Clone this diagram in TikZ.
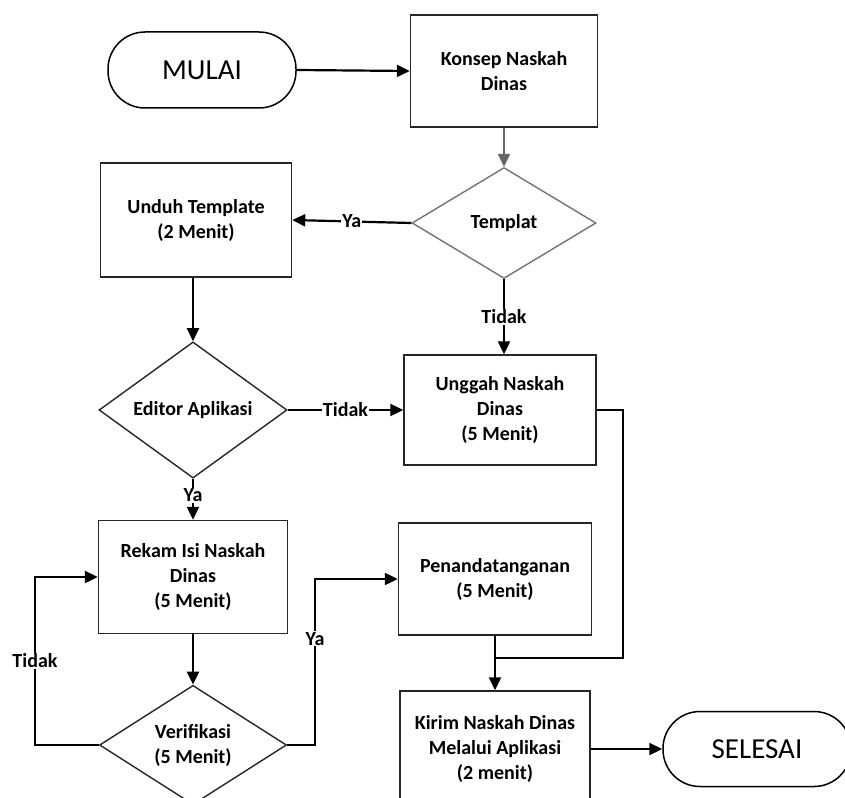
\documentclass[tikz,border=0pt]{standalone}
\usepackage{fontspec}
\setmainfont{Carlito}
\usetikzlibrary{shapes.geometric,arrows.meta}
\begin{document}
\begin{tikzpicture}[x=1pt,y=1pt,
  txt/.style={font=\fontsize{20}{25}\selectfont\bfseries,align=center,inner sep=0pt},
  procbox/.style={txt,draw=black!85,line width=1.4pt,rectangle},
  decbox/.style={txt,draw=black!85,line width=1.4pt,diamond},
  termbox/.style={draw=black,line width=1.5pt,rectangle,rounded corners=37pt,
     font=\fontsize{29}{34}\selectfont,inner sep=0pt},
  conn/.style={draw=black,line width=2.2pt,-{Triangle[length=13pt,width=12pt]}},
  line/.style={draw=black,line width=2.2pt},
  lbl/.style={txt,fill=white,inner sep=1pt}]
\path[use as bounding box] (0,0) rectangle (845,-797);
% nodes
\node[termbox,minimum width=188pt,minimum height=76pt] (mulai) at (202,-70) {MULAI};
\node[procbox,minimum width=187pt,minimum height=112pt] (konsep) at (504,-71) {Konsep Naskah\\Dinas};
\node[decbox,draw=black!55,minimum width=184pt,minimum height=111pt] (templat) at (504,-223) {Templat};
\node[procbox,minimum width=191pt,minimum height=114pt] (unduh) at (196,-220) {Unduh Template\\(2 Menit)};
\node[decbox,minimum width=188pt,minimum height=110pt] (editor) at (193,-410) {Editor Aplikasi};
\node[procbox,minimum width=192pt,minimum height=110pt] (unggah) at (500,-410) {Unggah Naskah\\Dinas\\(5 Menit)};
\node[procbox,minimum width=189pt,minimum height=113pt] (rekam) at (193,-577) {Rekam Isi Naskah\\Dinas\\(5 Menit)};
\node[decbox,minimum width=187pt,minimum height=110pt] (verif) at (193,-745) {Verifikasi\\(5 Menit)};
\node[procbox,minimum width=193pt,minimum height=112pt] (penanda) at (495,-579) {Penandatanganan\\(5 Menit)};
\node[procbox,minimum width=190pt,minimum height=116pt] (kirim) at (495,-749) {Kirim Naskah Dinas\\Melalui Aplikasi\\(2 menit)};
\node[termbox,minimum width=188pt,minimum height=75pt] (selesai) at (757,-749) {SELESAI};
% helper coordinates
\coordinate (lft) at (35,-745);
\coordinate (rgt) at (315,-745);
\coordinate (c1) at (623,-410);
\coordinate (j) at (495,-658);
% connectors
\draw[conn] (mulai.east) -- (konsep.west);
\draw[conn,draw=black!60] (konsep.south) -- (templat.north);
\draw[conn] (templat.west) -- node[lbl,pos=0.5]{Ya} (unduh.east);
\draw[conn] (templat.south) -- node[lbl,pos=0.5]{Tidak} (templat.south |- unggah.north);
\draw[conn] (unduh.south -| editor.north) -- (editor.north);
\draw[conn] (editor.east) -- node[lbl,pos=0.5]{Tidak} (unggah.west);
\draw[conn] (editor.south) -- node[lbl,pos=0.4]{Ya} (rekam.north);
\draw[conn] (rekam.south) -- (verif.north);
\draw[conn] (verif.west) -- (lft) |- node[lbl,pos=0.25]{Tidak} (rekam.west);
\draw[conn] (verif.east) -- (rgt) |- node[lbl,pos=0.32]{Ya} (penanda.west);
\draw[conn] (penanda.south) -- (kirim.north);
\draw[line] (unggah.east) -- (c1) |- (j);
\draw[conn] (kirim.east) -- (selesai.west);
\end{tikzpicture}
\end{document}
